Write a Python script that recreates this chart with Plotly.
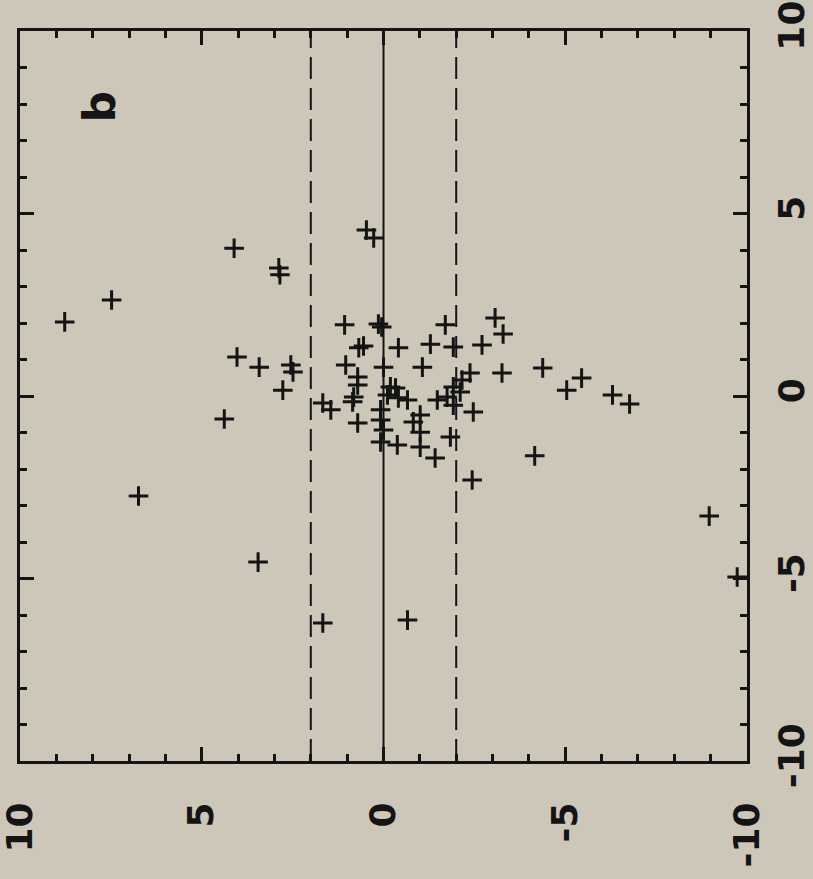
import plotly.graph_objects as go

# Data (horizontal axis value, vertical axis value)
x_vals = [8.77, 7.48, 6.74, 4.11, 4.03, 4.38, 3.42, 3.45, 2.88, 2.85,
          0.47, 0.27, 1.07, 0.14, 0.05, -1.70, -3.07, -3.29, 0.68, 0.55,
          -0.41, -1.29, -1.92, -2.71, 2.55, 2.49, 2.77, 1.04, 0.71, 0.71,
          0.00, -1.07, -2.38, -2.16, -3.26, -4.38, -5.45, -5.04, -6.30, -6.77,
          1.67, 1.45, 0.82, 0.85, -0.19, -0.33, -0.11, -0.41, -0.66, 0.08,
          -1.92, -2.11, -1.75, -1.48, -1.92, -2.47, 0.71, 0.08, 0.00, 0.08,
          -0.38, -1.01, -0.82, -1.01, -1.01, -1.42, -1.84, -2.44, -4.16, -8.96,
          -9.73, 1.67, -0.66]
y_vals = [2.03, 2.63, -2.74, 4.05, 1.07, -0.63, 0.79, -4.55, 3.51, 3.32,
          4.55, 4.33, 1.95, 1.97, 1.89, 1.95, 2.14, 1.70, 1.32, 1.37,
          1.32, 1.42, 1.34, 1.40, 0.85, 0.66, 0.16, 0.85, 0.52, 0.30,
          0.79, 0.79, 0.63, 0.44, 0.63, 0.77, 0.49, 0.16, 0.03, -0.22,
          -0.19, -0.38, -0.03, -0.16, 0.25, 0.22, 0.03, -0.05, -0.11, -0.38,
          0.25, 0.11, -0.03, -0.11, -0.25, -0.44, -0.74, -0.66, -0.93, -1.26,
          -1.34, -0.52, -0.71, -0.99, -1.40, -1.70, -1.12, -2.30, -1.64, -3.29,
          -4.96, -6.22, -6.14]

tick_vals = [-10, -5, 0, 5, 10]
tick_text = ["-10", "-5", "0", "5", "10"]
solid_lines = [0]
dashed_lines = [-2, 2]
panel_label = "b"

BG = "#ccc7b9"
INK = "#141414"

fig = go.Figure()
fig.add_trace(go.Scatter(
    x=x_vals, y=y_vals, mode="markers",
    marker=dict(symbol="cross-thin", size=14, line=dict(width=3, color=INK), color=INK),
    showlegend=False, hoverinfo="skip"))

for xv in solid_lines:
    fig.add_shape(type="line", xref="x", yref="paper", x0=xv, x1=xv, y0=0, y1=1,
                  line=dict(color=INK, width=2), layer="below")
for xv in dashed_lines:
    fig.add_shape(type="line", xref="x", yref="paper", x0=xv, x1=xv, y0=0, y1=1,
                  line=dict(color=INK, width=2, dash="22px,9px"), layer="below")

tickfont = dict(family="DejaVu Sans", size=36, color=INK, weight="bold")

fig.update_xaxes(range=[10, -10], tickvals=tick_vals, ticktext=tick_text,
                 tickangle=-90, tickfont=tickfont, ticks="inside", ticklen=14, tickwidth=2.5,
                 tickcolor=INK, minor=dict(ticks="inside", ticklen=7, tickwidth=2.5, dtick=1, tickcolor=INK),
                 showline=True, linewidth=3, linecolor=INK, mirror="ticks",
                 showgrid=False, zeroline=False, automargin=False, ticklabelstandoff=24,
                 ticklabeloverflow="allow")
fig.update_yaxes(range=[-10, 10], tickvals=tick_vals, ticktext=tick_text, side="right",
                 tickangle=-90, tickfont=tickfont, ticks="inside", ticklen=14, tickwidth=2.5,
                 tickcolor=INK, minor=dict(ticks="inside", ticklen=7, tickwidth=2.5, dtick=1, tickcolor=INK),
                 showline=True, linewidth=3, linecolor=INK, mirror="ticks",
                 showgrid=False, zeroline=False, automargin=False, ticklabelstandoff=11,
                 ticklabeloverflow="allow")

fig.add_annotation(text=panel_label, xref="paper", yref="paper", x=0.0715, y=0.922,
                   showarrow=False, textangle=-90,
                   font=dict(family="DejaVu Sans", size=44, color=INK, weight="bold"))

fig.update_layout(width=813, height=879, paper_bgcolor=BG, plot_bgcolor=BG,
                  margin=dict(l=20, r=66, t=31, b=118, autoexpand=False))

fig.write_html("out.html", config={"displayModeBar": False},
               post_script="document.body.style.margin='0px';document.body.style.background='" + BG + "';")
